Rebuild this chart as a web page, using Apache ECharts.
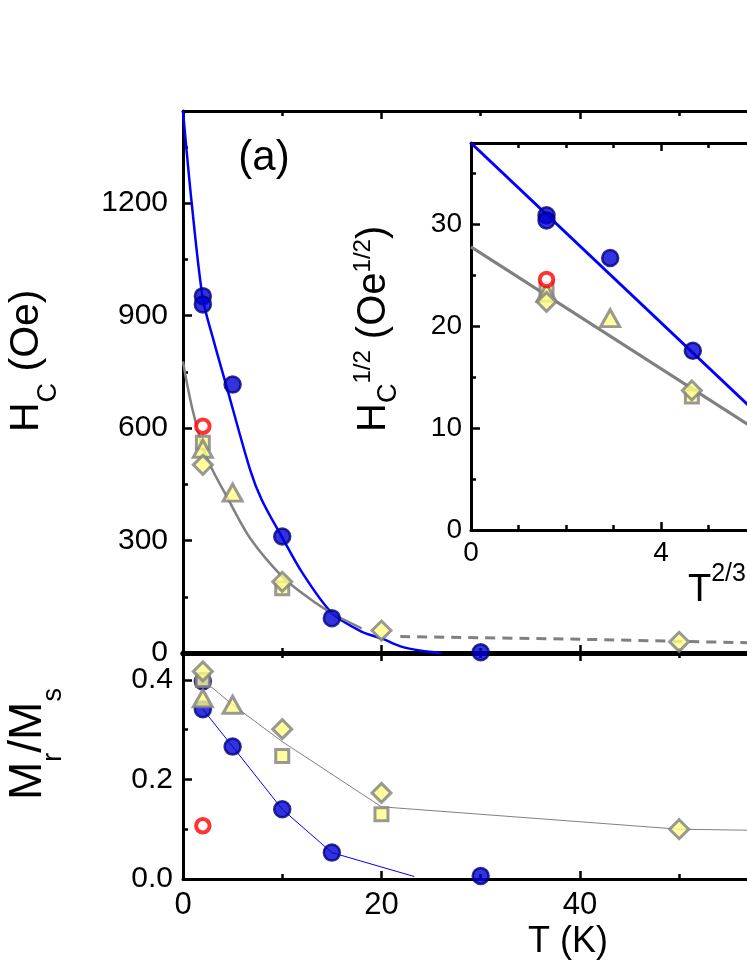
<!DOCTYPE html>
<html>
<head>
<meta charset="utf-8">
<script src="https://cdn.jsdelivr.net/npm/echarts@6/dist/echarts.min.js"></script>
<style>
  html, body { margin: 0; padding: 0; background: #ffffff; }
  #chart { width: 747px; height: 967px; }
</style>
</head>
<body>
<div id="chart"></div>
<script>
const FONT = "'Liberation Sans', Arial, Helvetica, sans-serif"

// upper panel: Hc (Oe) vs T (K)
const hcBlueDots = [[2, 952], [2, 930], [5, 716], [10, 311], [15, 93], [30, 2]]
const hcSquares = [[2, 561], [10, 173]]
const hcTriangles = [[2, 545], [5, 428]]
const hcDiamonds = [[2, 502], [10, 190], [20, 60], [50, 30]]
const hcRed = [[2, 605]]
const hcBlueFit = [[0, 1446], [0.87, 1202], [2, 945], [3.06, 836], [4.4, 710], [6.75, 490], [7.93, 409], [10, 308], [12, 215], [15, 107], [18, 57], [20, 39], [22, 17], [24, 6], [26, 0]]
const hcGreyFit = [[0, 778], [0.33, 729], [1, 645], [2, 548], [3, 487], [4.4, 418], [6.75, 307], [10, 204], [12.5, 150], [15, 106], [18, 66]]
const hcGreyDash = [[21.9, 44], [40, 36.6], [50, 31], [57, 27.5]]

// lower panel: Mr/Ms vs T (K)
const mrBlueDots = [[2, 0.397], [2, 0.341], [5, 0.266], [10, 0.14], [15, 0.053], [30, 0.006]]
const mrSquares = [[2, 0.40], [10, 0.247], [20, 0.13]]
const mrTriangles = [[2, 0.363], [5, 0.35]]
const mrDiamonds = [[2, 0.417], [10, 0.301], [20, 0.173], [50, 0.1]]
const mrRed = [[2, 0.107]]
const mrBlueLine = [[2, 0.341], [5, 0.266], [10, 0.14], [15, 0.053], [23.3, 0.005]]
const mrGreyLine = [[2, 0.40], [5, 0.35], [10, 0.276], [20, 0.145], [50, 0.1], [57, 0.098]]

// inset: Hc^1/2 vs T^2/3
const inBlueDots = [[1.59, 30.9], [1.59, 30.4], [2.93, 26.7], [4.67, 17.6]]
const inSquares = [[1.59, 23.7], [4.65, 13.1]]
const inTriangles = [[1.59, 23.3], [2.93, 20.8]]
const inDiamonds = [[1.59, 22.4], [4.65, 13.7]]
const inRed = [[1.59, 24.6]]
const inBlueLine = [[0, 38], [5.85, 12.2]]
const inGreyLine = [[0, 27.8], [5.85, 10.3]]

const blueDot = { symbol: 'circle', symbolSize: 16, itemStyle: { color: '#0000d4', borderColor: '#000080', borderWidth: 2.5 } }
const yDiamond = { symbol: 'diamond', symbolSize: 19, itemStyle: { color: '#ffff88', borderColor: '#808080', borderWidth: 3 } }
const ySquare = { symbol: 'rect', symbolSize: 13, itemStyle: { color: '#ffff88', borderColor: '#808080', borderWidth: 3 } }
const yTriangle = { symbol: 'triangle', symbolSize: [19, 17], itemStyle: { color: '#ffff88', borderColor: '#808080', borderWidth: 3 } }
const redRing = { symbol: 'circle', symbolSize: 13.5, itemStyle: { color: '#ffffff', borderColor: '#ff0000', borderWidth: 4 } }

function dots(data, xi, yi, look) {
  return Object.assign({ type: 'scatter', xAxisIndex: xi, yAxisIndex: yi, data: data, z: 3, silent: true }, look)
}
function curve(data, xi, yi, color, width, smooth, dash) {
  return {
    type: 'line', xAxisIndex: xi, yAxisIndex: yi, data: data, z: 2, silent: true,
    showSymbol: false, symbol: 'none', smooth: smooth,
    lineStyle: { color: color, width: width, type: dash || 'solid' }
  }
}
function xAx(grid, pos, min, max, step, minorSplit, lineW, labels, labelSize, labelMargin) {
  return {
    type: 'value', gridIndex: grid, position: pos, min: min, max: max, interval: step,
    axisLine: { show: true, onZero: false, lineStyle: { color: '#000', width: lineW } },
    axisTick: { show: true, inside: true, length: 8, lineStyle: { color: '#000', width: 2.5 } },
    minorTick: { show: true, splitNumber: minorSplit, length: 5, lineStyle: { color: '#000', width: 2.5 } },
    axisLabel: { show: labels, color: '#000', fontSize: labelSize, fontFamily: FONT, margin: labelMargin, showMaxLabel: false, formatter: v => String(v) },
    splitLine: { show: false }, minorSplitLine: { show: false }
  }
}
function yAx(grid, min, max, step, labelSize, labelMargin, fmt) {
  return {
    type: 'value', gridIndex: grid, position: 'left', min: min, max: max, interval: step,
    axisLine: { show: true, onZero: false, lineStyle: { color: '#000', width: 3 } },
    axisTick: { show: true, inside: true, length: 9, lineStyle: { color: '#000', width: 2.5 } },
    axisLabel: { show: true, color: '#000', fontSize: labelSize, fontFamily: FONT, margin: labelMargin, showMaxLabel: false, formatter: fmt || (v => String(v)) },
    splitLine: { show: false }
  }
}
// helper axis that only draws the short ticks
function yMinor(grid, min, max, step) {
  return {
    type: 'value', gridIndex: grid, position: 'left', min: min, max: max, interval: step,
    axisLine: { show: false }, axisLabel: { show: false }, splitLine: { show: false },
    axisTick: { show: true, inside: true, length: 5, lineStyle: { color: '#000', width: 2.5 } }
  }
}

// rotated axis title built from pieces (main text, sub- and superscripts), read bottom to top
const measureCtx = document.createElement('canvas').getContext('2d')
function textWidth(t, size) {
  measureCtx.font = size + 'px ' + FONT
  return measureCtx.measureText(t).width
}
function vTitle(x, yStart, pieces) {
  let y = yStart
  return pieces.map(p => {
    const el = {
      type: 'text', x: x + (p.dx || 0), y: y, rotation: Math.PI / 2, silent: true,
      style: { text: p.t, fontSize: p.size, fontFamily: FONT, fill: '#000', textAlign: 'left', textVerticalAlign: 'middle' }
    }
    y -= textWidth(p.t, p.size)
    return el
  })
}

const chart = echarts.init(document.getElementById('chart'))
chart.setOption({
  backgroundColor: '#ffffff',
  animation: false,
  grid: [
    { left: 183, top: 111, width: 774, height: 542, outerBoundsMode: 'none' },
    { left: 183, top: 653, width: 774, height: 226, outerBoundsMode: 'none' },
    { left: 471, top: 143, width: 380, height: 387, outerBoundsMode: 'none' }
  ],
  xAxis: [
    xAx(0, 'bottom', 0, 78, 20, 2, 5, false, 30, 10),
    xAx(0, 'top', 0, 78, 20, 2, 3, false, 30, 10),
    xAx(1, 'bottom', 0, 78, 20, 2, 3, true, 31, 11),
    xAx(1, 'top', 0, 78, 20, 2, 5, false, 30, 10),
    xAx(2, 'bottom', 0, 8, 4, 4, 3, true, 28, 9),
    xAx(2, 'top', 0, 8, 4, 4, 3, false, 28, 9)
  ],
  yAxis: [
    yAx(0, 0, 1446, 300, 30, 15),
    yMinor(0, 0, 1446, 150),
    yAx(1, 0, 0.454, 0.2, 30, 10, v => v.toFixed(1)),
    yMinor(1, 0, 0.454, 0.1),
    yAx(2, 0, 38, 10, 28, 9),
    yMinor(2, 0, 38, 5)
  ],
  series: [
    curve(hcBlueFit, 0, 0, '#0000ff', 2.5, 0.3),
    curve(hcGreyFit, 0, 0, '#808080', 2.5, 0.3),
    curve(hcGreyDash, 0, 0, '#808080', 3, 0.3, [10, 7]),
    dots(hcBlueDots, 0, 0, blueDot),
    dots(hcSquares, 0, 0, ySquare),
    dots(hcTriangles, 0, 0, yTriangle),
    dots(hcDiamonds, 0, 0, yDiamond),
    dots(hcRed, 0, 0, redRing),

    curve(mrBlueLine, 2, 2, '#0000ff', 1, false),
    curve(mrGreyLine, 2, 2, '#808080', 1, false),
    dots(mrBlueDots, 2, 2, blueDot),
    dots(mrSquares, 2, 2, ySquare),
    dots(mrTriangles, 2, 2, yTriangle),
    dots(mrDiamonds, 2, 2, yDiamond),
    dots(mrRed, 2, 2, redRing),

    curve(inBlueLine, 4, 4, '#0000ff', 3, false),
    curve(inGreyLine, 4, 4, '#808080', 3, false),
    dots(inBlueDots, 4, 4, blueDot),
    dots(inSquares, 4, 4, ySquare),
    dots(inTriangles, 4, 4, yTriangle),
    dots(inDiamonds, 4, 4, yDiamond),
    dots(inRed, 4, 4, redRing)
  ],
  graphic: [
    { type: 'text', x: 264, y: 158, silent: true,
      style: { text: '(a)', fontSize: 42, fontFamily: FONT, fill: '#000', textAlign: 'center', textVerticalAlign: 'middle' } },
    { type: 'text', x: 568, y: 942, silent: true,
      style: { text: 'T (K)', fontSize: 36, fontFamily: FONT, fill: '#000', textAlign: 'center', textVerticalAlign: 'middle' } },
    { type: 'text', x: 688, y: 591, silent: true,
      style: {
        text: '{m|T}{p|2/3}', textAlign: 'left', textVerticalAlign: 'middle',
        rich: {
          m: { fontSize: 38, fontFamily: FONT, fill: '#000', lineHeight: 59 },
          p: { fontSize: 25, fontFamily: FONT, fill: '#000', lineHeight: 25, verticalAlign: 'top' }
        }
      } }
  ].concat(
    vTitle(27, 432, [{ t: 'H', size: 41 }, { t: 'C', size: 27, dx: 22 }, { t: ' (Oe)', size: 41 }]),
    vTitle(28.5, 800, [{ t: 'M', size: 46 }, { t: 'r', size: 27, dx: 25 }, { t: '/M', size: 46 }, { t: 's', size: 27, dx: 25 }]),
    vTitle(373.5, 432, [{ t: 'H', size: 40 }, { t: 'C', size: 27, dx: 15 }, { t: '1/2', size: 24, dx: -10 },
      { t: ' (Oe', size: 40 }, { t: '1/2', size: 24, dx: -10 }, { t: ')', size: 40 }])
  )
})
</script>
</body>
</html>
